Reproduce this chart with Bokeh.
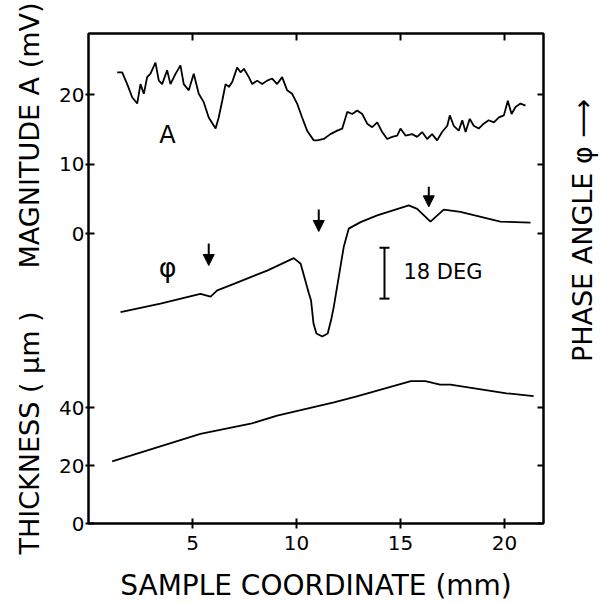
from bokeh.plotting import figure
from bokeh.layouts import row
from bokeh.models import (Range1d, LinearAxis, FixedTicker, Label, Arrow, NormalHead,
                          Whisker, TeeHead, ColumnDataSource)
from bokeh.core.properties import value
from bokeh.embed import file_html
from bokeh.resources import INLINE

# ---------------- data ----------------
mag_x = [1.38, 1.62, 1.86, 2.10, 2.34, 2.50, 2.66, 2.82, 2.98, 3.22,
         3.38, 3.54, 3.78, 3.94, 4.19, 4.42, 4.58, 4.82, 5.06, 5.30,
         5.54, 5.78, 6.11, 6.26, 6.43, 6.59, 6.75, 6.91, 7.15, 7.31,
         7.47, 7.71, 7.87, 8.11, 8.35, 8.59, 8.83, 9.07, 9.31, 9.55,
         9.79, 10.03, 10.27, 10.51, 10.83, 11.00, 11.31, 11.63, 11.96, 12.20,
         12.44, 12.68, 12.92, 13.16, 13.40, 13.64, 13.88, 14.12, 14.36, 14.60,
         14.84, 15.00, 15.24, 15.56, 15.80, 16.04, 16.28, 16.52, 16.76, 17.00,
         17.25, 17.37, 17.56, 17.80, 17.97, 18.13, 18.33, 18.52, 18.76, 19.00,
         19.24, 19.49, 19.73, 19.97, 20.16, 20.34, 20.53, 20.77, 21.01]
mag_y = [23.2, 23.2, 21.5, 19.6, 18.7, 21.5, 20.1, 22.5, 23.0, 24.6,
         22.0, 21.5, 23.5, 21.5, 23.0, 24.2, 21.5, 20.6, 23.0, 20.1,
         18.9, 16.7, 15.1, 16.7, 19.1, 21.5, 21.1, 21.8, 23.9, 23.2,
         23.7, 22.5, 21.5, 22.0, 21.5, 22.0, 22.3, 21.5, 22.5, 20.6,
         20.1, 18.7, 16.7, 14.8, 13.4, 13.4, 13.6, 14.3, 14.8, 15.1,
         17.5, 17.2, 17.7, 17.2, 15.8, 15.3, 16.0, 14.6, 13.6, 13.9,
         14.1, 15.1, 14.1, 14.3, 13.9, 14.6, 13.6, 14.3, 13.4, 14.6,
         15.5, 17.0, 15.5, 14.8, 16.3, 14.6, 16.5, 15.5, 15.1, 15.8,
         16.3, 16.0, 16.7, 17.0, 19.1, 17.2, 18.2, 18.7, 18.4]

phase_x = [1.54, 3.46, 5.38, 5.87, 6.19, 6.99, 8.59, 9.87, 10.20, 10.60,
           10.70, 10.82, 10.96, 11.24, 11.50, 11.68, 11.79, 12.03, 12.27, 12.51,
           13.08, 13.88, 15.40, 15.80, 16.44, 17.08, 17.88, 19.80, 21.25]
phase_y = [0.0, 3.0, 6.5, 5.5, 7.7, 10.0, 14.7, 19.1, 17.1, 6.5,
           4.1, -4.1, -7.5, -8.6, -7.5, -2.2, 1.8, 12.4, 23.0, 29.5,
           31.8, 34.2, 37.7, 36.5, 32.0, 36.2, 35.4, 32.0, 31.6]

thick_x = [1.14, 5.38, 7.80, 9.07, 11.80, 12.90, 15.50, 16.20, 16.90, 17.40, 20.10, 21.40]
thick_y = [21.4, 30.9, 34.4, 37.2, 41.8, 43.8, 49.1, 49.1, 47.9, 47.9, 44.9, 43.9]

x_ticks = [5, 10, 15, 20]
mag_ticks = [0, 10, 20]
thick_ticks = [0, 20, 40]

arrow_x = [5.78, 11.07, 16.36]
arrow_top = [24.3, 36.3, 44.3]
arrow_tip = [16.5, 28.5, 37.2]

scale_x = [14.23]
scale_lo = [4.8]
scale_hi = [22.8]
scale_text = "18 DEG"

x_title = "SAMPLE COORDINATE (mm)"
mag_title = "MAGNITUDE A (mV)"
thick_title = "THICKNESS ( μm )"
phase_title = "PHASE ANGLE φ ⟶"
phase_title_at = 0.43     # centre of the phase title, in magnitude-axis units

# ---------------- ranges ----------------
X_LO, X_HI = 0.0, 21.875
MAG_LO, MAG_HI = -41.73, 28.78
TH_LO, TH_HI = 0.0, 168.97
PH_LO, PH_HI = -74.6, 98.4

FONT = "DejaVu Sans"
NB = "\u00a0"
INK = "black"

fig = figure(frame_width=455, frame_height=490,
             x_range=Range1d(X_LO, X_HI), y_range=Range1d(MAG_LO, MAG_HI),
             output_backend="svg", toolbar_location=None,
             min_border_left=88, min_border_right=17, min_border_top=33, min_border_bottom=81)
fig.extra_y_ranges = {"thick": Range1d(TH_LO, TH_HI), "phase": Range1d(PH_LO, PH_HI)}
fig.grid.visible = False
fig.outline_line_color = INK
fig.outline_line_width = 2
fig.background_fill_color = "white"
fig.border_fill_color = "white"


def thick_to_mag(t):
    return MAG_LO + (t - TH_LO) * (MAG_HI - MAG_LO) / (TH_HI - TH_LO)


left_ticks = [float(m) for m in mag_ticks] + [thick_to_mag(t) for t in thick_ticks]
overrides = {float(m): str(m) for m in mag_ticks}
overrides.update({thick_to_mag(t): str(t) for t in thick_ticks})

# bottom axis
xa = fig.xaxis[0]
xa.ticker = FixedTicker(ticks=x_ticks)
xa.axis_label = x_title
xa.axis_label_text_font = FONT
xa.axis_label_text_font_size = "28px"
xa.axis_label_text_font_style = "normal"
xa.axis_label_text_color = INK
xa.axis_label_standoff = 16
xa.major_label_text_font = FONT
xa.major_label_text_font_size = "20px"
xa.major_label_text_color = INK
xa.major_label_standoff = 7
xa.major_tick_in = 5
xa.major_tick_out = 5
xa.minor_tick_line_color = None
xa.axis_line_width = 2
xa.axis_line_color = INK
xa.major_tick_line_width = 2
xa.major_tick_line_color = INK

# left axis (magnitude ticks + thickness ticks on one line)
ya = fig.yaxis[0]
ya.ticker = FixedTicker(ticks=left_ticks)
ya.major_label_overrides = overrides
ya.major_label_text_font = FONT
ya.major_label_text_font_size = "20px"
ya.major_label_text_color = INK
ya.major_label_standoff = 1
ya.major_tick_in = 6
ya.major_tick_out = 3
ya.minor_tick_line_color = None
ya.axis_line_width = 2
ya.axis_line_color = INK
ya.major_tick_line_width = 2
ya.major_tick_line_color = INK
ya.axis_label = thick_title.replace(" ", NB) + NB * 5 + mag_title.replace(" ", NB)
ya.axis_label_text_font = FONT
ya.axis_label_text_font_size = "27px"
ya.axis_label_text_font_style = "normal"
ya.axis_label_text_color = INK
ya.axis_label_standoff = 11

# top axis (ticks only)
top = LinearAxis(ticker=FixedTicker(ticks=x_ticks), major_tick_in=7, major_tick_out=0,
                 major_label_overrides={float(t): "" for t in x_ticks},
                 minor_tick_line_color=None, major_label_standoff=0,
                 axis_line_width=2, major_tick_line_width=2,
                 axis_line_color=INK, major_tick_line_color=INK)
fig.add_layout(top, "above")

# right axis (ticks only)
right = LinearAxis(ticker=FixedTicker(ticks=left_ticks), major_tick_in=6, major_tick_out=0,
                   major_label_overrides={t: "" for t in left_ticks},
                   minor_tick_line_color=None, major_label_standoff=0,
                   axis_line_width=2, major_tick_line_width=2,
                   axis_line_color=INK, major_tick_line_color=INK)
fig.add_layout(right, "right")

# curves
fig.line(mag_x, mag_y, line_color=INK, line_width=1.8)
fig.line(phase_x, phase_y, line_color=INK, line_width=1.8, y_range_name="phase")
fig.line(thick_x, thick_y, line_color=INK, line_width=1.8, y_range_name="thick")

# arrows
arrow_src = ColumnDataSource(dict(x=arrow_x, y0=arrow_top, y1=arrow_tip))
fig.add_layout(Arrow(x_start="x", y_start="y0", x_end="x", y_end="y1", source=arrow_src,
                     y_range_name="phase", line_color=INK, line_width=2,
                     end=NormalHead(size=11, fill_color=INK, line_color=INK)))

# scale bar
scale_src = ColumnDataSource(dict(base=scale_x, lower=scale_lo, upper=scale_hi))
fig.add_layout(Whisker(base="base", lower="lower", upper="upper", source=scale_src,
                       dimension="height", y_range_name="phase", line_color=INK, line_width=2,
                       lower_head=TeeHead(size=10, line_width=2, line_color=INK),
                       upper_head=TeeHead(size=10, line_width=2, line_color=INK)))
fig.add_layout(Label(x=15.14, y=14.1, y_range_name="phase", text=scale_text,
                     text_font=FONT, text_font_size="21px", text_align="left",
                     text_baseline="middle", text_color=INK))

# curve labels
fig.add_layout(Label(x=3.8, y=14.2, text="A", text_font=FONT, text_font_size="24px",
                     text_align="center", text_baseline="middle", text_color=INK))
fig.add_layout(Label(x=3.8, y=15.8, y_range_name="phase", text="φ", text_font=FONT,
                     text_font_size="27px", text_align="center", text_baseline="middle",
                     text_color=INK))

# narrow side panel carrying the phase-angle title (reads bottom to top)
side = figure(frame_width=40, frame_height=490, x_range=Range1d(0, 40), y_range=fig.y_range,
              output_backend="svg", toolbar_location=None,
              x_axis_location=None, y_axis_location=None,
              min_border_left=0, min_border_right=0, min_border_top=33, min_border_bottom=81)
side.grid.visible = False
side.outline_line_color = None
side.background_fill_color = "white"
side.border_fill_color = "white"
side.text(x=[22], y=[phase_title_at], text=[phase_title], angle=90, angle_units="deg",
          text_font=value(FONT), text_font_size="27px", text_align="center",
          text_baseline="middle", text_color=INK)

p = row(fig, side)
open("out.html", "w").write(file_html(p, INLINE))
